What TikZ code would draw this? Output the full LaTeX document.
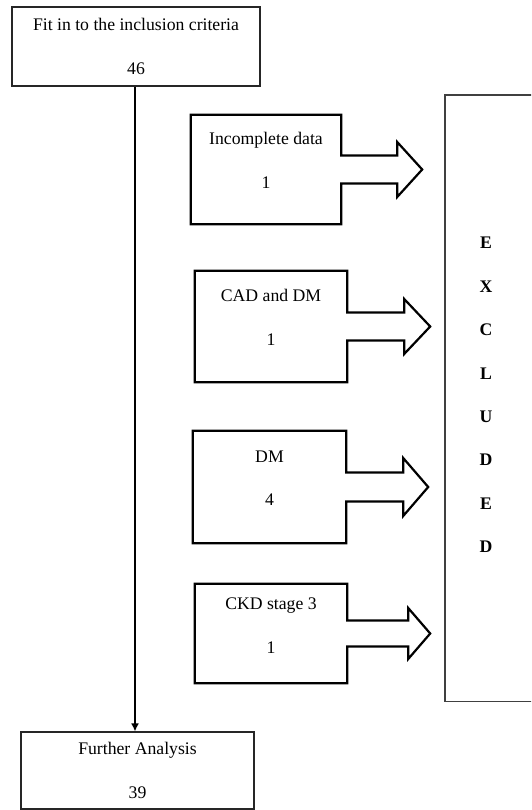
\documentclass[tikz,border=0pt]{standalone}
\usepackage{fontspec}
\setmainfont{Liberation Serif}
\usetikzlibrary{arrows.meta,calc}
\newcommand\exitarrow[5]{% node, shaft half, head half, shaft length, head length
  \draw[calloutline] (#1.north east) -- (#1.north west) -- (#1.south west) -- (#1.south east)
    -- ($(#1.east)+(0,#2)$) -- ++(#4,0) -- ++(0,{#3-#2}) -- ++(#5,{-#3})
    -- ++({-#5},{-#3}) -- ++(0,{#3-#2}) -- ++({-#4},0) -- cycle;}
\begin{document}
\begin{tikzpicture}[x=1pt,y=-1pt,
  txt/.style={align=center, inner sep=0pt, font=\fontsize{17.7}{43.5}\selectfont},
  plainbox/.style={draw=black!85, line width=1.1pt, inner sep=0pt},
  cbox/.style={draw=none, inner sep=0pt},
  calloutline/.style={draw=black, line width=2.2pt, line join=miter},
  exline/.style={draw=black!75, line width=1.4pt},
  flow/.style={draw=black, line width=2pt, -{Latex[length=8pt,width=8pt]}}]
\clip (0,0) rectangle (531,810);
\useasboundingbox (0,0) rectangle (531,810);
\fill[white] (0,0) rectangle (531,810);

% main flow
\node[plainbox, txt, minimum width=248pt, minimum height=79pt] (incl) at (136,46.5)
  {Fit in to the inclusion criteria\\46};
\node[plainbox, txt, minimum width=233pt, minimum height=77pt] (fa) at (137.5,770.5)
  {Further Analysis\\39};
\draw[flow] (incl.south -| 135,0) -- (135,0 |- fa.north);

% excluded box
\node[cbox, minimum width=100pt, minimum height=606pt, anchor=north west] (ex) at (445,95) {};
\draw[exline] (ex.north east) -- (ex.north west) -- (ex.south west) -- (ex.south east);
\node[txt, font=\bfseries\fontsize{17.7}{43.43}\selectfont] (exlbl) at (486,395)
  {E\\X\\C\\L\\U\\D\\E\\D};

% callouts
\node[cbox, minimum width=150pt, minimum height=109pt] (b1) at (266,169.5) {};
\node[txt] (t1) at ([yshift=9pt]b1.center) {Incomplete data\\1};
\exitarrow{b1}{14}{27.5}{56}{25}

\node[cbox, minimum width=152pt, minimum height=111pt] (b2) at (271,326.5) {};
\node[txt] (t2) at ([yshift=9pt]b2.center) {CAD and DM\\1};
\exitarrow{b2}{14}{27.5}{57}{26}

\node[cbox, minimum width=153pt, minimum height=112pt] (b3) at (269.5,487) {};
\node[txt] (t3) at ([yshift=9pt]b3.center) {DM\\4};
\exitarrow{b3}{14.5}{29}{57}{25}

\node[cbox, minimum width=152pt, minimum height=99pt] (b4) at (271,633.5) {};
\node[txt] (t4) at ([yshift=8pt]b4.center) {CKD stage 3\\1};
\exitarrow{b4}{13}{25.5}{61}{22}
\end{tikzpicture}
\end{document}
